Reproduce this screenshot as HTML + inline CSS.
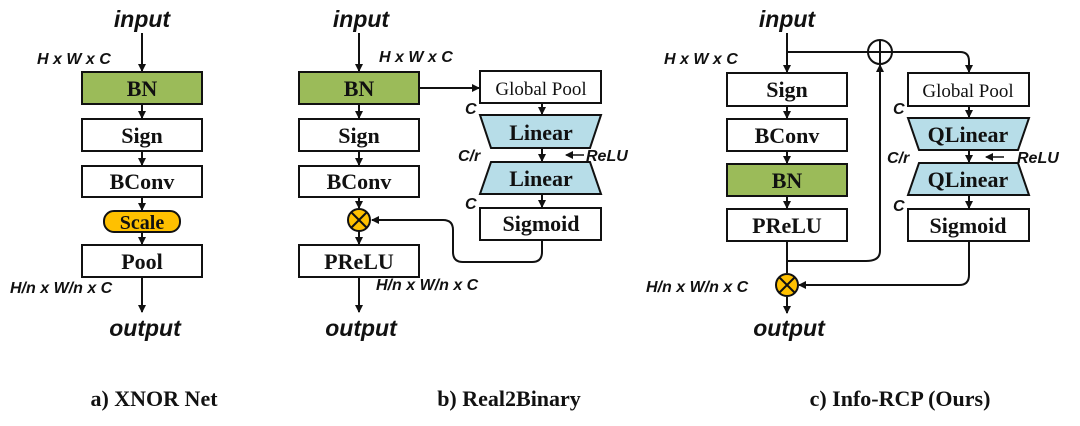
<!DOCTYPE html>
<html><head><meta charset="utf-8"><style>
html,body{margin:0;padding:0;background:#fff;}
svg{display:block}
.bx{font-family:"Liberation Serif",serif;font-weight:bold;font-size:22px;text-anchor:middle;fill:#111}
.lb{font-family:"Liberation Sans",sans-serif;font-weight:bold;font-style:italic;font-size:16px;fill:#111}
.io{font-family:"Liberation Sans",sans-serif;font-weight:bold;font-style:italic;font-size:23px;fill:#111;text-anchor:middle}
.cap{font-family:"Liberation Serif",serif;font-weight:bold;font-size:22px;fill:#111;text-anchor:middle}
</style></head><body>
<svg width="1080" height="426" viewBox="0 0 1080 426" xmlns="http://www.w3.org/2000/svg">
<defs><marker id="a" markerWidth="8" markerHeight="8" refX="7" refY="4" orient="auto" markerUnits="userSpaceOnUse"><path d="M0,0 L8,4 L0,8 z" fill="#111"/></marker></defs>
<g stroke="#111" stroke-width="2" fill="none">
<!-- panel a -->
<line x1="142" y1="33" x2="142" y2="71" marker-end="url(#a)"/>
<line x1="142" y1="104" x2="142" y2="118" marker-end="url(#a)"/>
<line x1="142" y1="151" x2="142" y2="165" marker-end="url(#a)"/>
<line x1="142" y1="197" x2="142" y2="210" marker-end="url(#a)"/>
<line x1="142" y1="232" x2="142" y2="244" marker-end="url(#a)"/>
<line x1="142" y1="277" x2="142" y2="312" marker-end="url(#a)"/>
<rect x="82" y="72" width="120" height="32" fill="#9bbb59"/>
<rect x="82" y="119" width="120" height="32" fill="#fff"/>
<rect x="82" y="166" width="120" height="31" fill="#fff"/>
<rect x="104" y="211" width="76" height="21" rx="10" fill="#ffc000"/>
<rect x="82" y="245" width="120" height="32" fill="#fff"/>
<!-- panel b -->
<line x1="359" y1="33" x2="359" y2="71" marker-end="url(#a)"/>
<line x1="359" y1="104" x2="359" y2="118" marker-end="url(#a)"/>
<line x1="359" y1="151" x2="359" y2="165" marker-end="url(#a)"/>
<line x1="359" y1="197" x2="359" y2="208" marker-end="url(#a)"/>
<line x1="359" y1="231" x2="359" y2="244" marker-end="url(#a)"/>
<line x1="359" y1="277" x2="359" y2="312" marker-end="url(#a)"/>
<line x1="419" y1="88" x2="479" y2="88" marker-end="url(#a)"/>
<line x1="542" y1="103" x2="542" y2="114" marker-end="url(#a)"/>
<line x1="542" y1="148" x2="542" y2="161" marker-end="url(#a)"/>
<line x1="542" y1="194" x2="542" y2="207" marker-end="url(#a)"/>
<line x1="584" y1="155" x2="566" y2="155" marker-end="url(#a)" stroke-width="1.5"/>
<path d="M542,240 V252 Q542,262 532,262 H463 Q453,262 453,252 V230 Q453,220 443,220 H372" marker-end="url(#a)"/>
<rect x="299" y="72" width="120" height="32" fill="#9bbb59"/>
<rect x="299" y="119" width="120" height="32" fill="#fff"/>
<rect x="299" y="166" width="120" height="31" fill="#fff"/>
<rect x="299" y="245" width="120" height="32" fill="#fff"/>
<circle cx="359" cy="220" r="11" fill="#ffc000"/>
<path d="M351,212 L367,228 M367,212 L351,228"/>
<rect x="480" y="71" width="121" height="32" fill="#fff"/>
<path d="M480,115 H601 L590,148 H491 Z" fill="#b7dde8"/>
<path d="M491,162 H590 L601,194 H480 Z" fill="#b7dde8"/>
<rect x="480" y="208" width="121" height="32" fill="#fff"/>
<!-- panel c -->
<line x1="787" y1="33" x2="787" y2="72" marker-end="url(#a)"/>
<line x1="787" y1="106" x2="787" y2="118" marker-end="url(#a)"/>
<line x1="787" y1="151" x2="787" y2="163" marker-end="url(#a)"/>
<line x1="787" y1="196" x2="787" y2="208" marker-end="url(#a)"/>
<line x1="787" y1="241" x2="787" y2="273"/>
<line x1="787" y1="297" x2="787" y2="313" marker-end="url(#a)"/>
<path d="M787,52 H960 Q969,52 969,61 V72" marker-end="url(#a)"/>
<path d="M787,261 H866 Q880,261 880,251 V65" marker-end="url(#a)"/>
<circle cx="880" cy="52" r="12" fill="#fff"/>
<path d="M868,52 H892 M880,40 V64"/>
<line x1="969" y1="106" x2="969" y2="117" marker-end="url(#a)"/>
<line x1="969" y1="150" x2="969" y2="162" marker-end="url(#a)"/>
<line x1="969" y1="195" x2="969" y2="208" marker-end="url(#a)"/>
<line x1="1004" y1="157" x2="986" y2="157" marker-end="url(#a)" stroke-width="1.5"/>
<path d="M969,241 V275 Q969,285 959,285 H799" marker-end="url(#a)"/>
<rect x="727" y="73" width="120" height="33" fill="#fff"/>
<rect x="727" y="119" width="120" height="32" fill="#fff"/>
<rect x="727" y="164" width="120" height="32" fill="#9bbb59"/>
<rect x="727" y="209" width="120" height="32" fill="#fff"/>
<circle cx="787" cy="285" r="11" fill="#ffc000"/>
<path d="M779,277 L795,293 M795,277 L779,293"/>
<rect x="908" y="73" width="121" height="33" fill="#fff"/>
<path d="M908,118 H1029 L1018,150 H919 Z" fill="#b7dde8"/>
<path d="M919,163 H1018 L1029,195 H908 Z" fill="#b7dde8"/>
<rect x="908" y="209" width="121" height="32" fill="#fff"/>
</g>
<!-- text a -->
<text class="io" x="142" y="27">input</text>
<text class="lb" x="37" y="64">H x W x C</text>
<text class="bx" x="142" y="96">BN</text>
<text class="bx" x="142" y="143">Sign</text>
<text class="bx" x="142" y="189">BConv</text>
<text class="bx" x="142" y="229" style="font-size:20px">Scale</text>
<text class="bx" x="142" y="269">Pool</text>
<text class="lb" x="10" y="293">H/n x W/n x C</text>
<text class="io" x="145" y="336">output</text>
<!-- text b -->
<text class="io" x="361" y="27">input</text>
<text class="lb" x="379" y="62">H x W x C</text>
<text class="bx" x="359" y="96">BN</text>
<text class="bx" x="359" y="143">Sign</text>
<text class="bx" x="359" y="189">BConv</text>
<text class="bx" x="359" y="269">PReLU</text>
<text class="lb" x="376" y="290">H/n x W/n x C</text>
<text class="io" x="361" y="336">output</text>
<text class="bx" x="541" y="95" style="font-size:19px;font-weight:normal">Global Pool</text>
<text class="bx" x="541" y="140">Linear</text>
<text class="bx" x="541" y="186">Linear</text>
<text class="bx" x="541" y="231">Sigmoid</text>
<text class="lb" x="465" y="114">C</text>
<text class="lb" x="458" y="161">C/r</text>
<text class="lb" x="586" y="161">ReLU</text>
<text class="lb" x="465" y="209">C</text>
<!-- text c -->
<text class="io" x="787" y="27">input</text>
<text class="lb" x="664" y="64">H x W x C</text>
<text class="bx" x="787" y="97">Sign</text>
<text class="bx" x="787" y="143">BConv</text>
<text class="bx" x="787" y="188">BN</text>
<text class="bx" x="787" y="233">PReLU</text>
<text class="lb" x="646" y="292">H/n x W/n x C</text>
<text class="io" x="789" y="336">output</text>
<text class="bx" x="968" y="97" style="font-size:19px;font-weight:normal">Global Pool</text>
<text class="bx" x="968" y="142">QLinear</text>
<text class="bx" x="968" y="187">QLinear</text>
<text class="bx" x="968" y="233">Sigmoid</text>
<text class="lb" x="893" y="114">C</text>
<text class="lb" x="887" y="163">C/r</text>
<text class="lb" x="1017" y="163">ReLU</text>
<text class="lb" x="893" y="211">C</text>
<!-- captions -->
<text class="cap" x="154" y="406">a) XNOR Net</text>
<text class="cap" x="509" y="406">b) Real2Binary</text>
<text class="cap" x="900" y="406">c) Info-RCP (Ours)</text>
</svg>
</body></html>
